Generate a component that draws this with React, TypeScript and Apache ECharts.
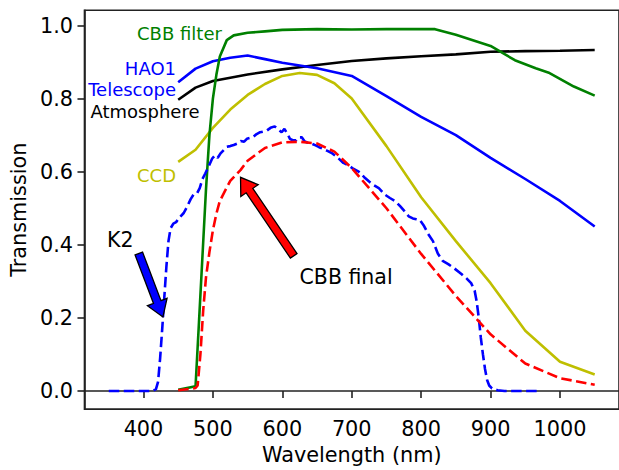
import React, { useEffect, useRef } from "react";
import * as echarts from "echarts";

// ---- data ----
const xTicks = [400, 500, 600, 700, 800, 900, 1000];
const yTicks = [0.0, 0.2, 0.4, 0.6, 0.8, 1.0];

const atmWl = [450, 475, 500, 550, 600, 650, 700, 750, 800, 850, 900, 950, 1000, 1050];
const atmT = [0.797, 0.83, 0.848, 0.866, 0.88, 0.892, 0.903, 0.91, 0.916, 0.921, 0.928, 0.93, 0.931, 0.933];

const telWl = [450, 475, 500, 525, 550, 575, 600, 650, 700, 750, 800, 850, 900, 950, 1000, 1050];
const telT = [0.845, 0.882, 0.902, 0.912, 0.918, 0.908, 0.898, 0.883, 0.862, 0.807, 0.75, 0.70, 0.638, 0.58, 0.52, 0.45];

const ccdWl = [450, 475, 500, 525, 550, 575, 600, 625, 650, 675, 700, 750, 800, 850, 900, 950, 1000, 1050];
const ccdT = [0.627, 0.66, 0.72, 0.77, 0.81, 0.84, 0.862, 0.87, 0.865, 0.842, 0.80, 0.67, 0.53, 0.41, 0.295, 0.165, 0.08, 0.045];

const filtWl = [450, 475, 480, 485, 490, 495, 500, 505, 510, 520, 530, 550, 575, 600, 650, 700, 750, 800, 820, 850, 900, 935, 965, 985, 1020, 1050];
const filtT = [0.003, 0.013, 0.19, 0.37, 0.55, 0.70, 0.80, 0.865, 0.915, 0.96, 0.973, 0.98, 0.984, 0.988, 0.99, 0.989, 0.99, 0.99, 0.99, 0.975, 0.944, 0.905, 0.883, 0.87, 0.833, 0.808];

const k2Wl = [350, 380, 413, 418, 421, 424, 427, 430, 433, 436, 439, 443, 447, 452, 458, 463, 468, 472, 477, 481, 485, 489, 494, 499, 503, 507, 511, 516, 520, 525, 530, 535, 540, 545, 549, 553, 558, 563, 568, 573, 578, 583, 589, 594, 599, 603, 607, 611, 615, 620, 624, 628, 632, 636, 642, 648, 653, 658, 665, 672, 680, 688, 695, 702, 710, 718, 725, 732, 739, 748, 755, 763, 770, 776, 782, 788, 793, 798, 804, 810, 817, 824, 831, 839, 848, 858, 866, 872, 877, 880, 883, 886, 889, 892, 895, 898, 902, 910, 920, 970];
const k2T = [0, 0, 0, 0.005, 0.025, 0.09, 0.17, 0.256, 0.34, 0.41, 0.445, 0.458, 0.462, 0.475, 0.487, 0.505, 0.525, 0.537, 0.54, 0.555, 0.58, 0.595, 0.615, 0.636, 0.645, 0.638, 0.65, 0.66, 0.668, 0.67, 0.673, 0.677, 0.684, 0.682, 0.69, 0.692, 0.695, 0.703, 0.708, 0.71, 0.713, 0.72, 0.724, 0.716, 0.708, 0.717, 0.705, 0.69, 0.686, 0.686, 0.694, 0.694, 0.683, 0.68, 0.677, 0.672, 0.667, 0.663, 0.657, 0.65, 0.638, 0.624, 0.618, 0.608, 0.6, 0.585, 0.573, 0.563, 0.555, 0.537, 0.528, 0.519, 0.505, 0.492, 0.478, 0.472, 0.47, 0.468, 0.452, 0.43, 0.41, 0.376, 0.356, 0.347, 0.335, 0.32, 0.307, 0.295, 0.275, 0.245, 0.2, 0.145, 0.1, 0.06, 0.03, 0.015, 0.007, 0.002, 0, 0];

const finWl = [450, 475, 478, 482, 486, 490, 495, 500, 505, 510, 525, 540, 550, 575, 600, 625, 650, 675, 700, 750, 800, 850, 900, 950, 1000, 1050];
const finT = [0.002, 0.008, 0.015, 0.1, 0.22, 0.31, 0.38, 0.44, 0.485, 0.52, 0.575, 0.605, 0.63, 0.665, 0.68, 0.682, 0.677, 0.655, 0.61, 0.50, 0.375, 0.26, 0.155, 0.075, 0.035, 0.017];

// annotation arrows in data coordinates: [tailX, tailY, tipX, tipY]
const k2Arrow = [393.3, 0.376, 428, 0.2024];
const finArrow = [616.4, 0.3696, 539.8, 0.5846];

const FONT = "DejaVu Sans";

function pairs(xs: number[], ys: number[]) {
  return xs.map((x, i) => [x, ys[i]]);
}

export default function App() {
  const ref = useRef<HTMLDivElement>(null);
  useEffect(() => {
    if (!ref.current) return;
    const chart = echarts.init(ref.current, null, { renderer: "svg", width: 619, height: 470 });
    const axisColor = "#222";
    const lw = 2.6;
    chart.setOption({
      animation: false,
      grid: {
        left: 81.7,
        right: -3.2,
        top: 10.3,
        bottom: 57,
        show: true,
        borderColor: axisColor,
        borderWidth: 1.6,
        backgroundColor: "transparent",
      },
      xAxis: {
        type: "value",
        min: 315,
        max: 1085,
        name: "Wavelength (nm)",
        nameLocation: "middle",
        nameGap: 34,
        nameTextStyle: { fontFamily: FONT, fontSize: 20.8, color: "#000" },
        axisLine: { show: true, lineStyle: { color: axisColor, width: 1.6 } },
        axisTick: { show: true, length: 7, customValues: xTicks, lineStyle: { color: axisColor, width: 1.6 } },
        axisLabel: {
          customValues: xTicks,
          fontFamily: FONT,
          fontSize: 20.8,
          color: "#000",
          margin: 9,
          formatter: (v: number) => String(v),
        },
        splitLine: { show: false },
      },
      yAxis: {
        type: "value",
        min: -0.0496,
        max: 1.0416,
        name: "Transmission",
        nameLocation: "middle",
        nameGap: 52,
        nameTextStyle: { fontFamily: FONT, fontSize: 20.8, color: "#000" },
        axisLine: { show: true, lineStyle: { color: axisColor, width: 1.6 } },
        axisTick: { show: true, length: 7, customValues: yTicks, lineStyle: { color: axisColor, width: 1.6 } },
        axisLabel: {
          customValues: yTicks,
          fontFamily: FONT,
          fontSize: 20.8,
          color: "#000",
          margin: 11.5,
          formatter: (v: number) => v.toFixed(1),
        },
        splitLine: { show: false },
      },
      series: [
        { name: "Atmosphere", type: "line", data: pairs(atmWl, atmT), showSymbol: false, lineStyle: { color: "#000000", width: lw }, z: 2 },
        { name: "HAO1 Telescope", type: "line", data: pairs(telWl, telT), showSymbol: false, lineStyle: { color: "#0000ff", width: lw }, z: 2 },
        { name: "CCD", type: "line", data: pairs(ccdWl, ccdT), showSymbol: false, lineStyle: { color: "#bfbf00", width: lw }, z: 2 },
        { name: "CBB filter", type: "line", data: pairs(filtWl, filtT), showSymbol: false, lineStyle: { color: "#008000", width: lw }, z: 2 },
        { name: "K2", type: "line", data: pairs(k2Wl, k2T), showSymbol: false, lineStyle: { color: "#0000ff", width: lw, type: [10.5, 4.5] }, z: 2 },
        { name: "CBB final", type: "line", data: pairs(finWl, finT), showSymbol: false, lineStyle: { color: "#ff0000", width: lw, type: [10.5, 4.5] }, z: 2 },
      ],
    });

    const toPx = (x: number, y: number) => chart.convertToPixel({ gridIndex: 0 }, [x, y]) as number[];
    const arrow = (a: number[], fill: string) => {
      const T = toPx(a[0], a[1]);
      const P = toPx(a[2], a[3]);
      const dx = P[0] - T[0];
      const dy = P[1] - T[1];
      const len = Math.hypot(dx, dy);
      const ux = dx / len, uy = dy / len;
      const nx = -uy, ny = ux;
      const w = 4, h = 10.5, L = 16;
      const B = [P[0] - ux * L, P[1] - uy * L];
      const pts = [
        [T[0] + nx * w, T[1] + ny * w],
        [B[0] + nx * w, B[1] + ny * w],
        [B[0] + nx * h, B[1] + ny * h],
        [P[0], P[1]],
        [B[0] - nx * h, B[1] - ny * h],
        [B[0] - nx * w, B[1] - ny * w],
        [T[0] - nx * w, T[1] - ny * w],
      ];
      return {
        type: "polygon",
        shape: { points: pts },
        style: { fill, stroke: "#000", lineWidth: 1.3 },
        z: 10,
      };
    };
    const label = (text: string, x: number, y: number, color: string, align: string, size: number) => ({
      type: "text",
      x,
      y,
      style: { text, fill: color, font: `${size}px "${FONT}"`, textAlign: align, textVerticalAlign: "middle" },
      z: 10,
    });
    chart.setOption({
      graphic: [
        arrow(k2Arrow, "#0000ff"),
        arrow(finArrow, "#ff0000"),
        label("CBB filter", 137, 33.7, "#008000", "left", 18),
        label("HAO1", 176, 68.3, "#0000ff", "right", 18),
        label("Telescope", 176, 89.5, "#0000ff", "right", 18),
        label("Atmosphere", 90.5, 111.7, "#000000", "left", 18),
        label("CCD", 176, 175, "#bfbf00", "right", 18),
        label("K2", 107, 239.7, "#000000", "left", 20.5),
        label("CBB final", 299.5, 277, "#000000", "left", 20.5),
      ],
    });
    return () => chart.dispose();
  }, []);
  return <div ref={ref} style={{ position: "absolute", left: 0, top: 0, width: 619, height: 470 }} />;
}
